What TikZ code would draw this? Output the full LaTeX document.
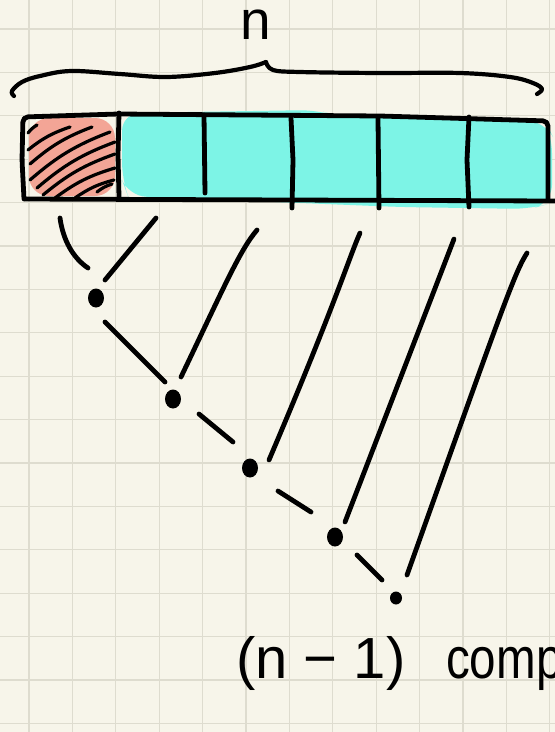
\documentclass[tikz,border=0pt]{standalone}
\usepackage{fontspec}
\setmainfont{Liberation Sans}
\usetikzlibrary{shapes.geometric}
\definecolor{paper}{HTML}{F7F5EA}
\definecolor{gridc}{HTML}{DEDCCF}
\definecolor{cyanfill}{HTML}{7DF4E6}
\definecolor{salmon}{HTML}{F3A596}
\tikzset{
  ink/.style={line width=4.8pt, line cap=round, line join=round, black},
  hatch/.style={line width=3.2pt, line cap=round, black},
  gridline/.style={line width=1.3pt, gridc},
  dotnode/.style={ellipse, fill=black, inner sep=0pt, minimum width=16pt, minimum height=19pt},
  label/.style={inner sep=0pt, font=\fontsize{58}{60}\selectfont},
}
\begin{document}
\begin{tikzpicture}[x=1pt,y=-1pt]
\useasboundingbox (0,0) rectangle (555,732);
\clip (0,0) rectangle (555,732);
\fill[paper] (0,0) rectangle (555,732);
% grid
\foreach \i in {0,...,12} \draw[gridline] ({29+43.4*\i},0) -- ++(0,732);
\foreach \j in {0,...,16} \draw[gridline] (0,{29+43.4*\j}) -- ++(555,0);

% label n
\node[label, anchor=base, font=\fontsize{55}{57}\selectfont] (ntop) at (256,39) {n};

% brace
\draw[ink, line width=4.2pt] plot[smooth, tension=0.6] coordinates {(14,96) (12,91) (22,82) (40,76) (71,71) (120,74) (166,77) (215,73) (250,67) (266,62)};
\draw[ink, line width=4.2pt] plot[smooth, tension=0.6] coordinates {(266,62) (273,70) (300,72) (380,73) (460,73) (510,77) (533,83) (542,89) (537,94)};

% fills
\fill[cyanfill, rounded corners=18] (122,113) -- (318,110) -- (340,117) -- (545,121) -- (552,135) -- (552,203) -- (530,209) -- (400,207) -- (300,203) -- (128,196) -- (122,180) -- cycle;
\fill[salmon, rounded corners=20] (29,118) rectangle (115,196);

% hatching
\draw[hatch] (28,133) to[bend left=10] (37,125);
\draw[hatch] (28,150) to[bend left=10] (70,127);
\draw[hatch] (30,164) to[bend left=10] (92,127);
\draw[hatch] (30,180) to[bend left=10] (110,132);
\draw[hatch] (37,188) to[bend left=10] (115,142);
\draw[hatch] (43,195) to[bend left=10] (115,154);
\draw[hatch] (55,198) to[bend left=10] (115,168);
\draw[hatch] (75,198) to[bend left=10] (114,180);
\draw[hatch] (97,192) to[bend left=10] (112,184);

% array outline
\draw[ink, rounded corners=5] (24,199) -- (22,160) -- (23,117) -- (118,114) -- (380,116) -- (548,121) -- (548,200);
\draw[ink] (25,199) -- (555,201);
% dividers
\draw[ink] (119,113) -- (118,155) -- (119,197);
\draw[ink] (204,115) -- (205,193);
\draw[ink] (291,118) -- (293,160) -- (292,208);
\draw[ink] (378,118) -- (379,208);
\draw[ink] (469,117) -- (467,160) -- (469,207);

% dots
\node[dotnode] (d1) at (96,298) {};
\node[dotnode] (d2) at (173,399) {};
\node[dotnode] (d3) at (250,468) {};
\node[dotnode] (d4) at (335,537) {};
\node[dotnode, minimum width=12pt, minimum height=13pt] (d5) at (396,598) {};

% line end coordinates
\coordinate (a1) at (60,218);  \coordinate (b1) at (88,268);
\coordinate (a2) at (156,218); \coordinate (b2) at (105,280);
\coordinate (a3) at (105,322); \coordinate (b3) at (165,382);
\coordinate (a4) at (257,230); \coordinate (b4) at (181,377);
\coordinate (a5) at (199,414); \coordinate (b5) at (233,442);
\coordinate (a6) at (360,233); \coordinate (b6) at (269,460);
\coordinate (a7) at (278,491); \coordinate (b7) at (311,512);
\coordinate (a8) at (454,239); \coordinate (b8) at (345,522);
\coordinate (a9) at (357,555); \coordinate (b9) at (382,580);
\coordinate (a10) at (527,253); \coordinate (b10) at (407,575);

\draw[ink] (a1) .. controls (63,240) and (73,258) .. (b1);
\draw[ink] (a2) -- (b2);
\draw[ink] (a3) -- (b3);
\draw[ink] (a4) .. controls (240,250) and (225,285) .. (b4);
\draw[ink] (a5) -- (b5);
\draw[ink] (a6) .. controls (350,255) and (335,305) .. (b6);
\draw[ink] (a7) -- (b7);
\draw[ink] (a8) -- (b8);
\draw[ink] (a9) -- (b9);
\draw[ink] (a10) .. controls (515,272) and (505,300) .. (b10);

% bottom text
\node[label, anchor=base west] (nm1) at (236,678) {(n − 1)};
\node[label, anchor=base west, xscale=0.82] (comp) at (446,678) {comp};
\end{tikzpicture}
\end{document}
